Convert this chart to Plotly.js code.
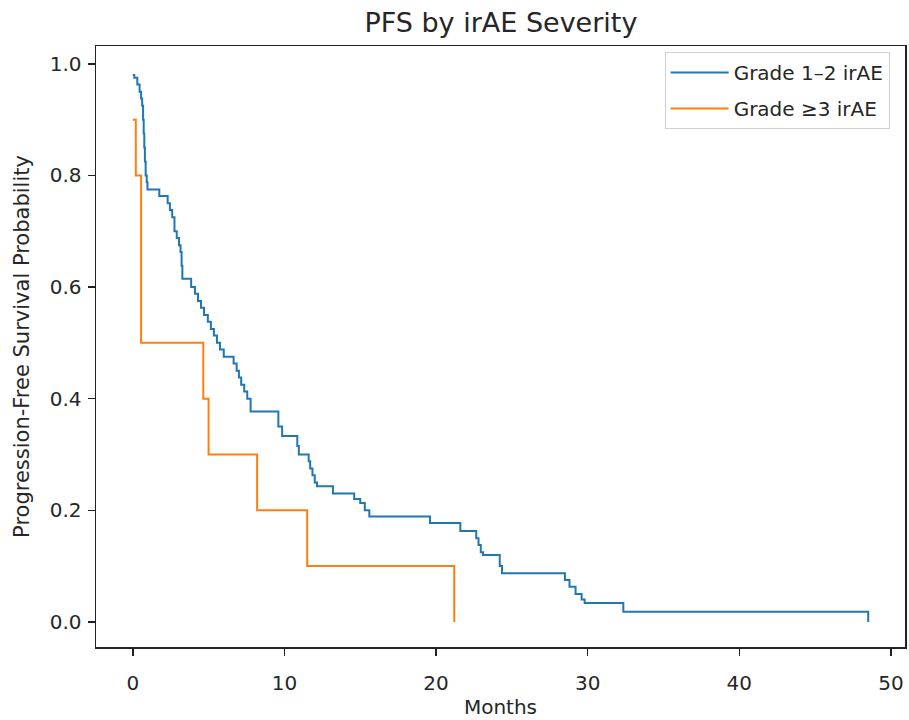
<!DOCTYPE html>
<html>
<head>
<meta charset="utf-8">
<script src="https://cdn.plot.ly/plotly-3.0.1.min.js"></script>
<style>html,body{margin:0;padding:0;background:#fff;}#chart{width:909px;height:720px;}</style>
</head>
<body>
<div id="chart"></div>
<script>
// Grade 1–2 irAE Kaplan–Meier steps (time in months, survival probability)
var blueT = [0, 0.1, 0.3, 0.45, 0.55, 0.62, 0.68, 0.72, 0.76, 0.8, 0.85, 0.92, 0.97,
  1.75, 2.3, 2.45, 2.6, 2.75, 2.9, 3.05, 3.15, 3.22, 3.27,
  3.85, 4.1, 4.3, 4.5, 4.7, 4.95, 5.15, 5.35, 5.55, 5.75, 6.0,
  6.65, 6.85, 7.0, 7.15, 7.35, 7.55, 7.77,
  9.6, 9.85, 10.85, 10.95,
  11.6, 11.7, 11.85, 12.0, 12.15,
  13.2, 14.6, 15.0, 15.3, 15.6,
  19.6, 21.6, 22.65, 22.8, 22.95, 23.1,
  24.2, 24.35, 28.5, 28.8, 29.2, 29.6, 29.8,
  32.35, 48.5];
var blueS = [0.98, 0.975, 0.963, 0.95, 0.938, 0.925, 0.9, 0.875, 0.85, 0.825, 0.8, 0.788, 0.775,
  0.763, 0.75, 0.738, 0.725, 0.7, 0.688, 0.675, 0.663, 0.638, 0.615,
  0.6, 0.588, 0.575, 0.563, 0.55, 0.538, 0.525, 0.513, 0.5, 0.488, 0.475,
  0.463, 0.45, 0.438, 0.425, 0.413, 0.4, 0.377,
  0.35, 0.333, 0.315, 0.3,
  0.288, 0.275, 0.263, 0.25, 0.243,
  0.23, 0.22, 0.213, 0.2, 0.189,
  0.177, 0.163, 0.15, 0.138, 0.125, 0.12,
  0.1, 0.087, 0.075, 0.063, 0.05, 0.04, 0.034,
  0.018, 0.0];
// Grade ≥3 irAE
var orangeT = [0, 0.2, 0.55, 4.65, 5.0, 8.2, 11.5, 21.2];
var orangeS = [0.9, 0.8, 0.5, 0.4, 0.3, 0.2, 0.1, 0.0];

var seriesNames = ["Grade 1\u20132 irAE", "Grade \u22653 irAE"];
var xTicks = [0, 10, 20, 30, 40, 50];
var yTicks = [0.0, 0.2, 0.4, 0.6, 0.8, 1.0];

var font = "DejaVu Sans, sans-serif";
var txt = "#262626";

var traces = [
  {x: blueT, y: blueS, type: "scatter", mode: "lines", name: seriesNames[0], legendgroup: "g1",
   line: {shape: "hv", color: "#1f77b4", width: 2}},
  {x: orangeT, y: orangeS, type: "scatter", mode: "lines", name: seriesNames[1], legendgroup: "g2",
   line: {shape: "hv", color: "#ff7f0e", width: 2}}
];

var layout = {
  width: 909, height: 720,
  margin: {l: 96, r: 4, t: 46, b: 73, pad: 0},
  paper_bgcolor: "#fff", plot_bgcolor: "#fff",
  font: {family: font, color: txt, size: 20},
  title: {text: "PFS by irAE Severity", font: {family: font, size: 27, color: txt},
          x: 0.5005, xref: "paper", xanchor: "center", y: 1 - 23/720, yref: "container", yanchor: "middle"},
  xaxis: {
    range: [-2.425, 50.925], tickmode: "array", tickvals: xTicks,
    ticktext: xTicks.map(String),
    showgrid: false, zeroline: false, showline: true, mirror: true,
    linecolor: "#222", linewidth: 1.5,
    ticks: "outside", ticklen: 7, tickwidth: 1.5, tickcolor: "#222",
    ticklabelstandoff: 10,
    tickfont: {family: font, size: 20, color: txt},
    title: {text: "Months", font: {family: font, size: 20, color: txt}, standoff: 6}
  },
  yaxis: {
    range: [-0.045, 1.032], tickmode: "array", tickvals: yTicks,
    ticktext: yTicks.map(function(v){return v.toFixed(1);}),
    showgrid: false, zeroline: false, showline: true, mirror: true,
    linecolor: "#222", linewidth: 1.5,
    ticks: "outside", ticklen: 7, tickwidth: 1.5, tickcolor: "#222",
    ticklabelstandoff: 2,
    tickfont: {family: font, size: 20, color: txt},
    title: {text: "Progression-Free Survival Probability", font: {family: font, size: 21, color: txt}, standoff: 14}
  },
  showlegend: true,
  legend: {x: 0.981, xanchor: "right", y: 0.99, yanchor: "top",
           bgcolor: "rgba(255,255,255,0.8)", bordercolor: "#d0d0d0", borderwidth: 1,
           traceorder: "grouped", tracegroupgap: 7,
           font: {family: font, size: 20, color: txt}, itemwidth: 58}
};

Plotly.newPlot("chart", traces, layout, {displayModeBar: false, staticPlot: true});
</script>
</body>
</html>
